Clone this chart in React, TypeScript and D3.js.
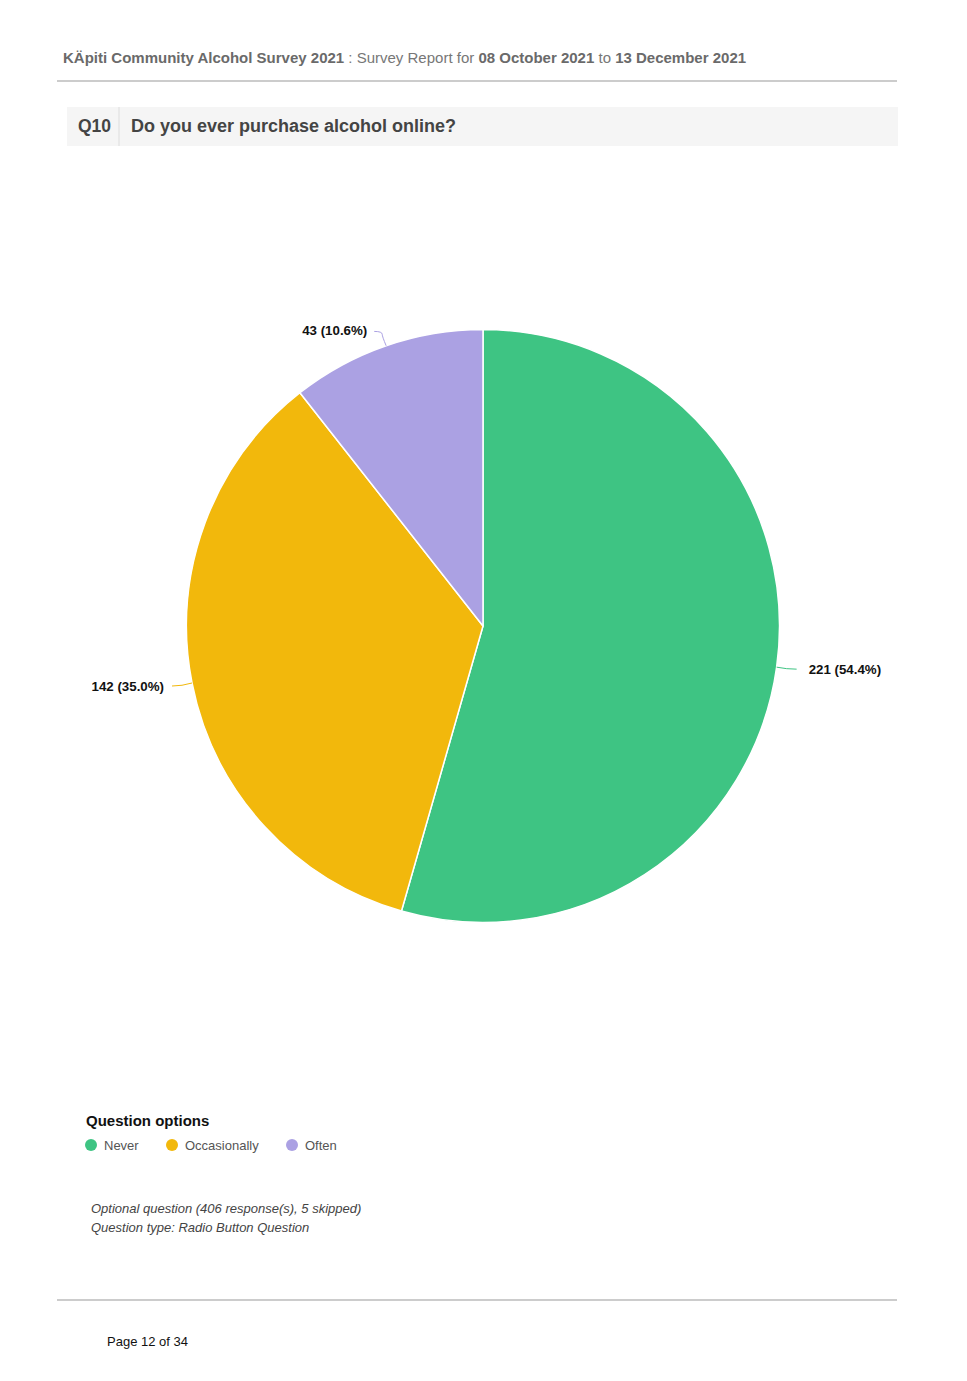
import React from "react";
import * as d3 from "d3";

const categories = ["Never", "Occasionally", "Often"];
const counts = [221, 142, 43];
const percents = ["54.4%", "35.0%", "10.6%"];
const colors = ["#3ec483", "#f2b80c", "#aba1e3"];

const W = 967;
const H = 1381;
const cx = 483;
const cy = 626;
const R = 296.5;
const FONT = "'Liberation Sans', Arial, Helvetica, sans-serif";

export default function App() {
  const data = categories.map((c, i) => ({ c, v: counts[i], p: percents[i], color: colors[i] }));
  const pie = d3.pie<any>().value((d) => d.v).sort(null);
  const arcs = pie(data);
  const arcGen = d3.arc<any>().innerRadius(0).outerRadius(R);

  const labels = arcs.map((a, i) => {
    const mid = (a.startAngle + a.endAngle) / 2;
    const sx = Math.sin(mid);
    const cyv = -Math.cos(mid);
    const p0 = [cx + R * sx, cy + R * cyv];
    const right = sx >= 0;
    let path = "";
    let tx = 0;
    let ty = 0;
    if (i === 2) {
      const p1 = [cx + (R + 12) * sx, cy + (R + 12) * cyv];
      const p2 = [p1[0] - 8, p1[1] - 3];
      path = `M${p0[0]},${p0[1]} Q${p1[0]},${p1[1] + 2} ${p1[0]},${p1[1]} Q${p1[0]},${p2[1]} ${p2[0]},${p2[1]}`;
      tx = p2[0] - 7;
      ty = p2[1] + 4;
    } else {
      const p1x = p0[0] + (right ? 20 : -20);
      const p1y = p0[1] + (right ? 2 : 3);
      path = `M${p0[0]},${p0[1]} Q${(p0[0] + p1x) / 2},${p1y} ${p1x},${p1y}`;
      tx = p1x + (right ? 12 : -8);
      ty = p1y + 4.5;
    }
    return { path, tx, ty, anchor: right ? "start" : "end", text: `${a.data.v} (${a.data.p})`, color: a.data.color };
  });

  const legendX = [91, 172, 292];

  return (
    <svg width={W} height={H} style={{ position: "absolute", left: 0, top: 0, background: "#fff" }} fontFamily={FONT}>
      <text x={63} y={63} fontSize={15} fill="#777">
        <tspan fontWeight="bold" fill="#6a6a6a">KÄpiti Community Alcohol Survey 2021</tspan>
        <tspan> : Survey Report for </tspan>
        <tspan fontWeight="bold" fill="#6a6a6a">08 October 2021</tspan>
        <tspan> to </tspan>
        <tspan fontWeight="bold" fill="#6a6a6a">13 December 2021</tspan>
      </text>
      <line x1={57} x2={897} y1={81} y2={81} stroke="#bbb" strokeWidth={1.5} />

      <rect x={67} y={107} width={831} height={39} fill="#f5f5f5" />
      <line x1={119} x2={119} y1={107} y2={146} stroke="#ddd" strokeWidth={1} />
      <text x={78} y={132} fontSize={17.5} fontWeight="bold" fill="#444">Q10</text>
      <text x={131} y={132} fontSize={18} fontWeight="bold" fill="#444">Do you ever purchase alcohol online?</text>

      <g transform={`translate(${cx},${cy})`}>
        {arcs.map((a, i) => (
          <path key={i} d={arcGen(a) as string} fill={a.data.color} stroke="#fff" strokeWidth={1.5} strokeLinejoin="round" />
        ))}
      </g>
      {labels.map((l, i) => (
        <g key={i}>
          <path d={l.path} fill="none" stroke={l.color} strokeWidth={1} />
          <text x={l.tx} y={l.ty} fontSize={13.3} fontWeight="bold" fill="#111" textAnchor={l.anchor}>{l.text}</text>
        </g>
      ))}

      <text x={86} y={1126} fontSize={15} fontWeight="bold" fill="#111">Question options</text>
      {categories.map((c, i) => (
        <g key={c}>
          <circle cx={legendX[i]} cy={1145} r={6} fill={colors[i]} />
          <text x={legendX[i] + 13} y={1150} fontSize={13} fill="#555">{c}</text>
        </g>
      ))}

      <text x={91} y={1213} fontSize={13} fontStyle="italic" fill="#444">Optional question (406 response(s), 5 skipped)</text>
      <text x={91} y={1232} fontSize={13} fontStyle="italic" fill="#444">Question type: Radio Button Question</text>

      <line x1={57} x2={897} y1={1300} y2={1300} stroke="#bbb" strokeWidth={1.5} />
      <text x={107} y={1346} fontSize={13} fill="#111">Page 12 of 34</text>
    </svg>
  );
}
